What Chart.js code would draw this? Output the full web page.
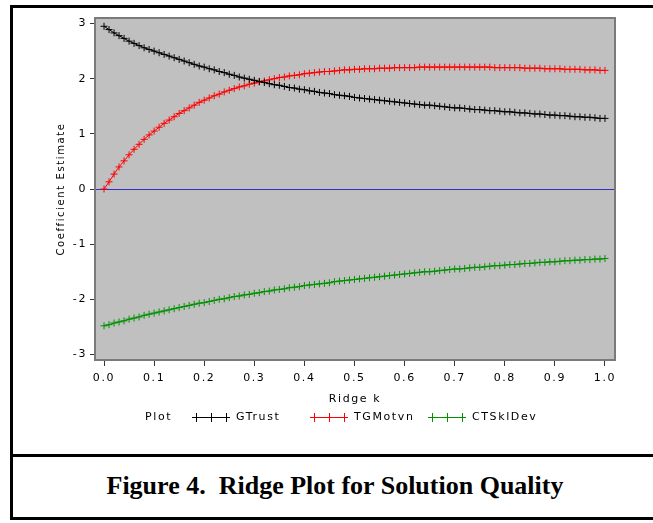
<!DOCTYPE html>
<html>
<head>
<meta charset="utf-8">
<script src="https://cdn.jsdelivr.net/npm/chart.js@4/dist/chart.umd.min.js"></script>
<style>
  html, body { margin: 0; padding: 0; background: #fff; width: 653px; height: 523px; overflow: hidden; }
  #box { position: absolute; left: 10px; top: 5px; width: 720px; height: 509px; border: 3px solid #000; }
  #sep { position: absolute; left: 10px; top: 454px; width: 720px; height: 3px; background: #000; }
  #cap { position: absolute; left: 10px; top: 455px; width: 650px; height: 62px; line-height: 62px; text-align: center;
         font-family: "Liberation Serif", "Times New Roman", serif; font-weight: bold; font-size: 26px; color: #000; }
  #c { position: absolute; left: 0; top: 0; }
</style>
</head>
<body>
<div id="box"></div>
<div id="sep"></div>
<div id="cap">Figure 4.&nbsp; Ridge Plot for Solution Quality</div>
<canvas id="c" width="653" height="454"></canvas>
<script>
// ---- data ----
const ridgeK = [0.00,0.01,0.02,0.03,0.04,0.05,0.06,0.07,0.08,0.09,
  0.10,0.11,0.12,0.13,0.14,0.15,0.16,0.17,0.18,0.19,
  0.20,0.21,0.22,0.23,0.24,0.25,0.26,0.27,0.28,0.29,
  0.30,0.31,0.32,0.33,0.34,0.35,0.36,0.37,0.38,0.39,
  0.40,0.41,0.42,0.43,0.44,0.45,0.46,0.47,0.48,0.49,
  0.50,0.51,0.52,0.53,0.54,0.55,0.56,0.57,0.58,0.59,
  0.60,0.61,0.62,0.63,0.64,0.65,0.66,0.67,0.68,0.69,
  0.70,0.71,0.72,0.73,0.74,0.75,0.76,0.77,0.78,0.79,
  0.80,0.81,0.82,0.83,0.84,0.85,0.86,0.87,0.88,0.89,
  0.90,0.91,0.92,0.93,0.94,0.95,0.96,0.97,0.98,0.99,1.00];

const gTrust = [2.95,2.89,2.83,2.78,2.73,2.68,2.64,2.60,2.56,2.53,
  2.50,2.47,2.44,2.41,2.38,2.35,2.32,2.29,2.26,2.23,
  2.21,2.18,2.16,2.13,2.11,2.08,2.06,2.03,2.01,1.99,
  1.97,1.95,1.93,1.91,1.89,1.88,1.86,1.84,1.83,1.81,
  1.80,1.78,1.77,1.75,1.74,1.73,1.71,1.70,1.69,1.68,
  1.66,1.65,1.64,1.63,1.62,1.61,1.60,1.59,1.58,1.57,
  1.56,1.55,1.54,1.53,1.52,1.52,1.51,1.50,1.49,1.48,
  1.47,1.47,1.46,1.45,1.44,1.44,1.43,1.42,1.42,1.41,
  1.40,1.40,1.39,1.38,1.38,1.37,1.36,1.36,1.35,1.34,
  1.34,1.33,1.33,1.32,1.31,1.31,1.30,1.30,1.29,1.28,1.28];

const tgMotvn = [0.00,0.13,0.27,0.40,0.51,0.62,0.72,0.81,0.90,0.98,
  1.05,1.12,1.19,1.25,1.31,1.37,1.42,1.47,1.52,1.57,
  1.61,1.65,1.69,1.72,1.76,1.79,1.82,1.85,1.87,1.90,
  1.92,1.94,1.96,1.98,2.00,2.02,2.03,2.05,2.06,2.07,
  2.09,2.10,2.11,2.12,2.13,2.13,2.14,2.15,2.16,2.16,
  2.17,2.17,2.18,2.18,2.18,2.19,2.19,2.19,2.20,2.20,
  2.20,2.20,2.20,2.21,2.21,2.21,2.21,2.21,2.21,2.21,
  2.21,2.21,2.21,2.21,2.21,2.21,2.21,2.21,2.20,2.20,
  2.20,2.20,2.20,2.20,2.19,2.19,2.19,2.19,2.18,2.18,
  2.18,2.18,2.17,2.17,2.17,2.17,2.16,2.16,2.16,2.15,2.15];

const ctSklDev = [-2.48,-2.46,-2.43,-2.41,-2.39,-2.36,-2.34,-2.32,-2.29,-2.27,
  -2.25,-2.23,-2.21,-2.19,-2.17,-2.15,-2.13,-2.11,-2.09,-2.07,
  -2.06,-2.04,-2.02,-2.00,-1.99,-1.97,-1.95,-1.94,-1.92,-1.91,
  -1.89,-1.88,-1.86,-1.85,-1.83,-1.82,-1.81,-1.79,-1.78,-1.77,
  -1.75,-1.74,-1.73,-1.72,-1.71,-1.70,-1.68,-1.67,-1.66,-1.65,
  -1.64,-1.63,-1.62,-1.61,-1.60,-1.59,-1.58,-1.57,-1.56,-1.55,
  -1.54,-1.53,-1.52,-1.51,-1.50,-1.50,-1.49,-1.48,-1.47,-1.46,
  -1.45,-1.45,-1.44,-1.43,-1.42,-1.42,-1.41,-1.40,-1.39,-1.39,
  -1.38,-1.37,-1.37,-1.36,-1.35,-1.35,-1.34,-1.33,-1.33,-1.32,
  -1.32,-1.31,-1.30,-1.30,-1.29,-1.29,-1.28,-1.28,-1.27,-1.27,-1.26];

const seriesNames = ["GTrust", "TGMotvn", "CTSklDev"];
const xTicks = [0.0,0.1,0.2,0.3,0.4,0.5,0.6,0.7,0.8,0.9,1.0];
const yTicks = [-3,-2,-1,0,1,2,3];
const xTitle = "Ridge k";
const yTitle = "Coefficient Estimate";
const legendTitle = "Plot";
const refValue = 0;

// ---- styling ----
const colors = ["#000000", "#ff0000", "#009000"];
const FONT = '"DejaVu Sans", sans-serif';
const SPACING = '1.6px';

function mk(vals) { return ridgeK.map((k, i) => ({ x: k, y: vals[i] })); }
const allSeries = [gTrust, tgMotvn, ctSklDev];

const framePlugin = {
  id: 'frame',
  beforeLayout(chart) { chart.ctx.letterSpacing = SPACING; },
  beforeDraw(chart) {
    const { ctx, chartArea: a } = chart;
    ctx.letterSpacing = SPACING;
    ctx.save();
    ctx.fillStyle = '#c0c0c0';
    ctx.fillRect(a.left, a.top, a.right - a.left, a.bottom - a.top);
    ctx.restore();
  },
  beforeDatasetsDraw(chart) {
    const { ctx, chartArea: a, scales } = chart;
    ctx.save();
    const y0 = Math.round(scales.y.getPixelForValue(refValue)) + 0.5;
    ctx.strokeStyle = '#3030c8';
    ctx.lineWidth = 1;
    ctx.beginPath(); ctx.moveTo(a.left, y0); ctx.lineTo(a.right, y0); ctx.stroke();
    ctx.strokeStyle = '#7a7a7a';
    ctx.lineWidth = 2;
    ctx.strokeRect(a.left, a.top, a.right - a.left, a.bottom - a.top);
    ctx.restore();
  },
  afterDraw(chart) {
    const ctx = chart.ctx;
    ctx.save();
    ctx.letterSpacing = SPACING;
    ctx.font = '11px ' + FONT;
    ctx.textBaseline = 'middle';
    ctx.textAlign = 'left';
    ctx.fillStyle = '#000';
    const ly = 417;
    ctx.fillText(legendTitle, 145, ly);
    chart.data.datasets.forEach((ds, i) => {
      const sx = 192 + i * 118;
      ctx.strokeStyle = ds.borderColor;
      ctx.lineWidth = 1;
      ctx.beginPath(); ctx.moveTo(sx, ly + 0.5); ctx.lineTo(sx + 38, ly + 0.5); ctx.stroke();
      [4, 19, 34].forEach(dx => {
        ctx.beginPath(); ctx.moveTo(sx + dx + 0.5, ly - 4); ctx.lineTo(sx + dx + 0.5, ly + 5); ctx.stroke();
      });
      ctx.fillStyle = '#000';
      ctx.fillText(ds.label, sx + 44, ly);
    });
    ctx.restore();
  }
};

new Chart(document.getElementById('c'), {
  type: 'line',
  data: {
    datasets: allSeries.map((vals, i) => ({
      label: seriesNames[i],
      data: mk(vals),
      borderColor: colors[i],
      backgroundColor: colors[i],
      borderWidth: 1,
      pointStyle: 'cross',
      pointRadius: 3.5,
      pointBorderWidth: 1,
      pointBorderColor: colors[i],
      pointHoverRadius: 3.5,
      tension: 0,
      fill: false
    }))
  },
  options: {
    responsive: false,
    animation: false,
    events: [],
    layout: { padding: { top: 18, right: 38, left: 0, bottom: 0 } },
    plugins: { legend: { display: false }, tooltip: { enabled: false } },
    scales: {
      x: {
        type: 'linear',
        min: -0.018, max: 1.02,
        afterBuildTicks: s => { s.ticks = xTicks.map(v => ({ value: v })); },
        afterFit: s => { s.height = 94; },
        grid: { display: true, drawOnChartArea: false, drawTicks: true, tickLength: 6, color: '#333', lineWidth: 1 },
        border: { display: false },
        ticks: { color: '#000', font: { family: FONT, size: 11 }, padding: 6, maxRotation: 0, autoSkip: false,
                 callback: v => Number(v).toFixed(1) },
        title: { display: true, text: xTitle, color: '#000', font: { family: FONT, size: 11 }, padding: { bottom: 48 } }
      },
      y: {
        type: 'linear',
        min: -3.1, max: 3.1,
        afterBuildTicks: s => { s.ticks = yTicks.map(v => ({ value: v })); },
        afterFit: s => { s.width = 95; },
        grid: { display: true, drawOnChartArea: false, drawTicks: true, tickLength: 5, color: '#333', lineWidth: 1 },
        border: { display: false },
        ticks: { color: '#000', font: { family: FONT, size: 11 }, padding: 3, autoSkip: false,
                 callback: v => String(v) },
        title: { display: true, text: yTitle, color: '#000', font: { family: FONT, size: 10 }, padding: { top: 55 } }
      }
    }
  },
  plugins: [framePlugin]
});
</script>
</body>
</html>
